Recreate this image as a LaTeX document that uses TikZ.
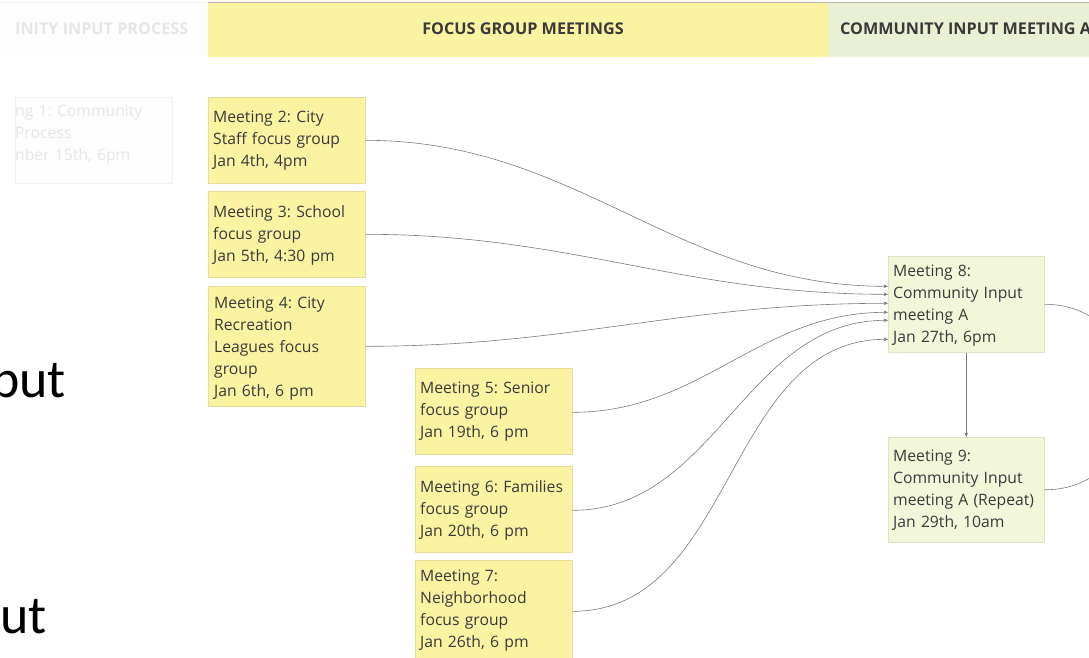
\documentclass[tikz,border=0pt]{standalone}
\usepackage{fontspec}
\setmainfont{Open Sans}
\newfontfamily\slidefont{Carlito}
\usetikzlibrary{arrows.meta}
\frenchspacing
\definecolor{yfill}{HTML}{F9F3A2}
\definecolor{yborder}{HTML}{E4DE9A}
\definecolor{gfill}{HTML}{F2F7DA}
\definecolor{gborder}{HTML}{DDE3C4}
\definecolor{ghead}{HTML}{E9F0D3}
\definecolor{txt}{HTML}{3A3A3A}
\definecolor{conncol}{HTML}{7A7A7A}
\definecolor{fadetxt}{HTML}{E6E6E6}
\definecolor{fadefill}{HTML}{FDFDFD}
\definecolor{fadeborder}{HTML}{F2F2F2}
\tikzset{
  boxbase/.style={line width=0.6pt, inner sep=0pt, anchor=north west, minimum width=157pt},
  ybox/.style={boxbase, draw=yborder, fill=yfill},
  gbox/.style={boxbase, draw=gborder, fill=gfill, minimum width=156pt},
  fbox/.style={boxbase, draw=fadeborder, fill=fadefill},
  btext/.style={text width=160pt, align=left, inner sep=0pt, anchor=base west,
    font=\fontsize{15.7}{22}\selectfont, text=txt},
  ftext/.style={btext, text=fadetxt},
  htext/.style={inner sep=0pt, font=\fontsize{16.2}{18}\selectfont\bfseries, text=txt},
  conn/.style={draw=conncol, line width=0.6pt, -{Stealth[length=4.5pt,width=3.5pt]}},
  bigtext/.style={inner sep=0pt, anchor=base west, font=\slidefont\fontsize{54}{60}\selectfont, text=black}
}
\begin{document}
\begin{tikzpicture}[x=1pt,y=-1pt]
\useasboundingbox (0,0) rectangle (1089,657);
\clip (0,0) rectangle (1089,657);
\fill[white] (0,0) rectangle (1089,657);
% header bands
\fill[fadefill] (0,2) rectangle (208,57);
\node[fill=yfill, minimum width=620pt, minimum height=55pt, inner sep=0pt, anchor=north west] (hfocus) at (208,2) {};
\node[fill=ghead, minimum width=300pt, minimum height=55pt, inner sep=0pt, anchor=north west] (hcomm) at (828,2) {};
\draw[fadeborder, line width=0.6pt] (0,2) -- (208,2);
\draw[gray!60, line width=0.6pt] (208,2) -- (1089,2);
\node[htext] (hfocust) at (523,29) {FOCUS GROUP MEETINGS};
\node[htext, anchor=west] (hcommt) at (840,29) {COMMUNITY INPUT MEETING A};
\node[htext, anchor=west, text=fadetxt] (hprocess) at (15,29) {INITY INPUT PROCESS};
% faded meeting 1
\node[fbox, minimum height=86pt] (m1) at (15,97) {};
\node[ftext] (m1t) at (15,116) {ng 1: Community\\Process\\nber 15th, 6pm};
% focus group boxes
\node[ybox, minimum height=86pt] (m2) at (208,97) {};
\node[btext] (m2t) at (213,122) {Meeting 2: City\\Staff focus group\\Jan 4th, 4pm};
\node[ybox, minimum height=86pt] (m3) at (208,191) {};
\node[btext] (m3t) at (213,217) {Meeting 3: School\\focus group\\Jan 5th, 4:30 pm};
\node[ybox, minimum height=120pt] (m4) at (208,286) {};
\node[btext] (m4t) at (214,308) {Meeting 4: City\\Recreation\\Leagues focus\\group\\Jan 6th, 6 pm};
\node[ybox, minimum height=86pt] (m5) at (415,368) {};
\node[btext] (m5t) at (420,393) {Meeting 5: Senior\\focus group\\Jan 19th, 6 pm};
\node[ybox, minimum height=86pt] (m6) at (415,466) {};
\node[btext] (m6t) at (420,492) {Meeting 6: Families\\focus group\\Jan 20th, 6 pm};
\node[ybox, minimum height=100pt] (m7) at (415,560) {};
\node[btext] (m7t) at (420,581) {Meeting 7:\\Neighborhood\\focus group\\Jan 26th, 6 pm};
% community input boxes
\node[gbox, minimum height=96pt] (m8) at (888,256) {};
\node[btext] (m8t) at (893,276) {Meeting 8:\\Community Input\\meeting A\\Jan 27th, 6pm};
\node[gbox, minimum height=105pt] (m9) at (888,437) {};
\node[btext] (m9t) at (893,461) {Meeting 9:\\Community Input\\meeting A (Repeat)\\Jan 29th, 10am};
% connectors
\draw[conn] (m2.east) to[out=0,in=180] ([yshift=18pt]m8.west);
\draw[conn] (m3.east) to[out=0,in=180] ([yshift=10pt]m8.west);
\draw[conn] (m4.east) to[out=0,in=180] ([yshift=1pt]m8.west);
\draw[conn] ([yshift=-1pt]m5.east) to[out=0,in=180] ([yshift=-8pt]m8.west);
\draw[conn] ([yshift=-1pt]m6.east) to[out=0,in=180] ([yshift=-16pt]m8.west);
\draw[conn] ([yshift=-1pt]m7.east) to[out=0,in=180] ([yshift=-35pt]m8.west);
\draw[conn] (m8.south) -- (m9.north);
\draw[draw=conncol, line width=0.6pt] (m8.east) to[out=0,in=0,looseness=1.6] (m9.east);
% slide text fragments
\node[bigtext] (put) at (-9,397) {put};
\node[bigtext] (ut) at (0,633) {ut};
\end{tikzpicture}
\end{document}
